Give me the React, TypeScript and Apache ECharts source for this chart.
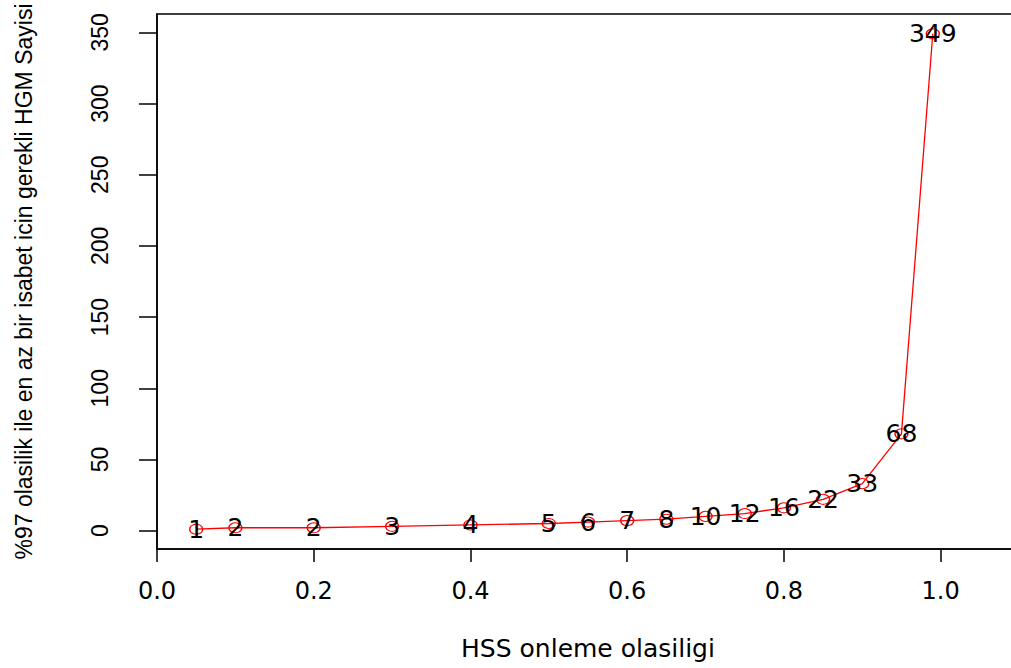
import React, { useEffect, useRef } from "react";
import * as echarts from "echarts";

const xValues = [0.05, 0.1, 0.2, 0.3, 0.4, 0.5, 0.55, 0.6, 0.65, 0.7, 0.75, 0.8, 0.85, 0.9, 0.95, 0.99];
const yValues = [1, 2, 2, 3, 4, 5, 6, 7, 8, 10, 12, 16, 22, 33, 68, 349];
const xTicks = [0, 0.2, 0.4, 0.6, 0.8, 1.0];
const yTicks = [0, 50, 100, 150, 200, 250, 300, 350];
const xTitle = "HSS onleme olasiligi";
const yTitle = "%97 olasilik ile en az bir isabet icin gerekli HGM Sayisi";

export default function App() {
  const ref = useRef<HTMLDivElement>(null);
  useEffect(() => {
    if (!ref.current) return;
    const chart = echarts.init(ref.current, undefined, { renderer: "svg" });
    const hFont = "DejaVu Sans";
    const vFont = "Liberation Sans";
    chart.setOption({
      animation: false,
      backgroundColor: "#fff",
      grid: {
        left: 157,
        top: 14,
        right: -8,
        bottom: 119,
        containLabel: false,
        outerBoundsMode: "none",
        show: true,
        borderColor: "#000",
        borderWidth: 1.5,
        backgroundColor: "transparent",
      },
      xAxis: {
        type: "value",
        min: 0,
        max: 1.1,
        name: xTitle,
        nameLocation: "middle",
        nameGap: 87,
        nameTextStyle: { fontFamily: hFont, fontSize: 25, color: "#000" },
        axisLine: { show: true, onZero: false, lineStyle: { color: "#000", width: 1.5 } },
        axisTick: { show: true, length: 13, customValues: xTicks, lineStyle: { color: "#000", width: 1.5 } },
        axisLabel: {
          customValues: xTicks,
          formatter: (v: number) => v.toFixed(1),
          fontFamily: hFont,
          fontSize: 24,
          color: "#000",
          margin: 30,
        },
        splitLine: { show: false },
      },
      yAxis: {
        type: "value",
        min: -12.92,
        max: 362.92,
        name: yTitle,
        nameLocation: "middle",
        nameRotate: 90,
        nameGap: 122,
        nameTextStyle: { fontFamily: vFont, fontSize: 23, color: "#000" },
        axisLine: { show: true, lineStyle: { color: "#000", width: 1.5 } },
        axisTick: { show: true, length: 18, customValues: yTicks, lineStyle: { color: "#000", width: 1.5 } },
        axisLabel: {
          customValues: yTicks,
          rotate: 90,
          fontFamily: vFont,
          fontSize: 23,
          color: "#000",
          margin: 46,
        },
        splitLine: { show: false },
      },
      series: [
        {
          type: "line",
          data: xValues.map((x, i) => [x, yValues[i]]),
          color: "#ff0000",
          lineStyle: { color: "#ff0000", width: 1.3 },
          symbol: "circle",
          symbolSize: [13, 10],
          itemStyle: { color: "rgba(255,255,255,0)", borderColor: "#ff0000", borderWidth: 1.2 },
          label: {
            show: true,
            position: "inside",
            formatter: (p: any) => String(p.value[1]),
            fontFamily: hFont,
            fontSize: 25,
            color: "#000",
          },
          emphasis: { disabled: true },
        },
      ],
    });
    return () => chart.dispose();
  }, []);
  return (
    <div
      ref={ref}
      style={{ position: "absolute", left: 0, top: 0, width: 1011, height: 668, background: "#fff" }}
    />
  );
}
